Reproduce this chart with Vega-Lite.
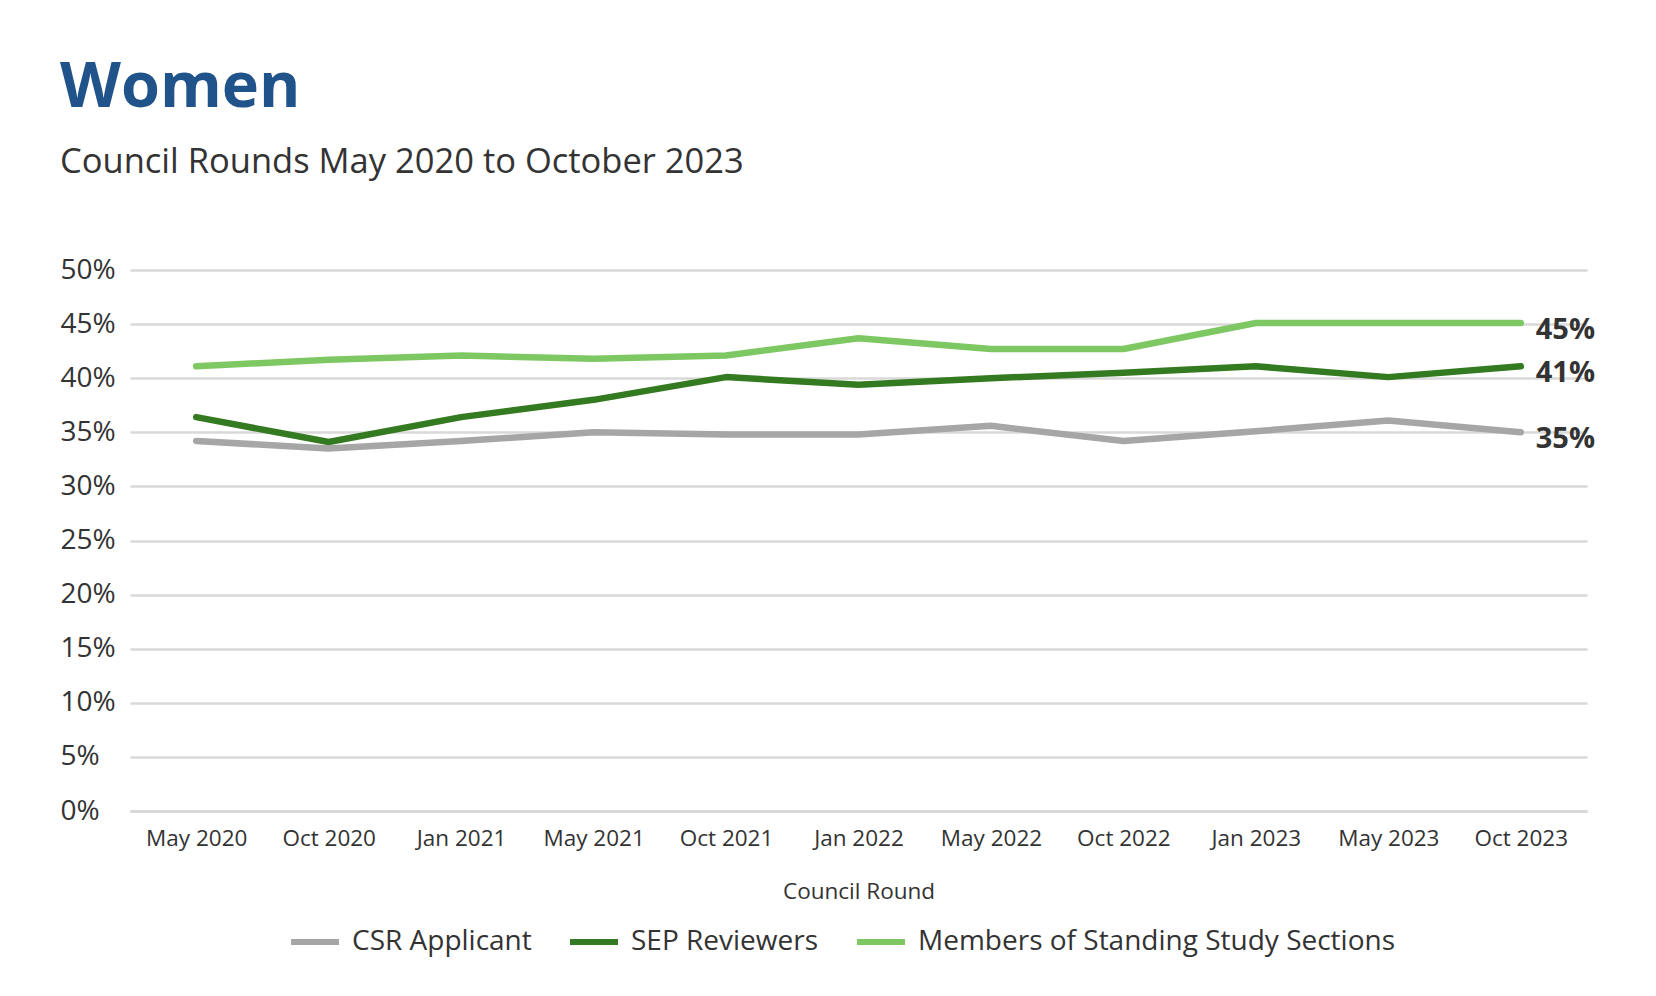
{
  "$schema": "https://vega.github.io/schema/vega-lite/v6.json",
  "autosize": {"type": "none"},
  "width": 1457,
  "height": 541,
  "padding": {"left": 130, "top": 270, "right": 69, "bottom": 185},
  "background": "white",
  "config": {"view": {"stroke": null}},
  "title": {
    "text": "Women",
    "subtitle": "Council Rounds May 2020 to October 2023",
    "anchor": "start",
    "frame": "group",
    "dx": -70,
    "offset": 77,
    "font": "Open Sans",
    "fontSize": 63,
    "fontWeight": "bold",
    "color": "#1f5389",
    "subtitleFont": "Open Sans",
    "subtitleFontSize": 34.5,
    "subtitleColor": "#333333",
    "subtitlePadding": 26
  },
  "data": {
    "values": [
      {"round": "May 2020", "series": "CSR Applicant", "value": 0.342},
      {"round": "Oct 2020", "series": "CSR Applicant", "value": 0.335},
      {"round": "Jan 2021", "series": "CSR Applicant", "value": 0.342},
      {"round": "May 2021", "series": "CSR Applicant", "value": 0.350},
      {"round": "Oct 2021", "series": "CSR Applicant", "value": 0.348},
      {"round": "Jan 2022", "series": "CSR Applicant", "value": 0.348},
      {"round": "May 2022", "series": "CSR Applicant", "value": 0.356},
      {"round": "Oct 2022", "series": "CSR Applicant", "value": 0.342},
      {"round": "Jan 2023", "series": "CSR Applicant", "value": 0.351},
      {"round": "May 2023", "series": "CSR Applicant", "value": 0.361},
      {"round": "Oct 2023", "series": "CSR Applicant", "value": 0.350},
      {"round": "May 2020", "series": "SEP Reviewers", "value": 0.364},
      {"round": "Oct 2020", "series": "SEP Reviewers", "value": 0.341},
      {"round": "Jan 2021", "series": "SEP Reviewers", "value": 0.364},
      {"round": "May 2021", "series": "SEP Reviewers", "value": 0.380},
      {"round": "Oct 2021", "series": "SEP Reviewers", "value": 0.401},
      {"round": "Jan 2022", "series": "SEP Reviewers", "value": 0.394},
      {"round": "May 2022", "series": "SEP Reviewers", "value": 0.400},
      {"round": "Oct 2022", "series": "SEP Reviewers", "value": 0.405},
      {"round": "Jan 2023", "series": "SEP Reviewers", "value": 0.411},
      {"round": "May 2023", "series": "SEP Reviewers", "value": 0.401},
      {"round": "Oct 2023", "series": "SEP Reviewers", "value": 0.411},
      {"round": "May 2020", "series": "Members of Standing Study Sections", "value": 0.411},
      {"round": "Oct 2020", "series": "Members of Standing Study Sections", "value": 0.417},
      {"round": "Jan 2021", "series": "Members of Standing Study Sections", "value": 0.421},
      {"round": "May 2021", "series": "Members of Standing Study Sections", "value": 0.418},
      {"round": "Oct 2021", "series": "Members of Standing Study Sections", "value": 0.421},
      {"round": "Jan 2022", "series": "Members of Standing Study Sections", "value": 0.437},
      {"round": "May 2022", "series": "Members of Standing Study Sections", "value": 0.427},
      {"round": "Oct 2022", "series": "Members of Standing Study Sections", "value": 0.427},
      {"round": "Jan 2023", "series": "Members of Standing Study Sections", "value": 0.451},
      {"round": "May 2023", "series": "Members of Standing Study Sections", "value": 0.451},
      {"round": "Oct 2023", "series": "Members of Standing Study Sections", "value": 0.451}
    ]
  },
  "encoding": {
    "x": {
      "field": "round",
      "type": "ordinal",
      "sort": null,
      "scale": {"type": "point", "padding": 0.5},
      "axis": {
        "title": "Council Round",
        "titleFont": "Open Sans",
        "titleFontSize": 22.5,
        "titleFontWeight": "normal",
        "titleColor": "#333333",
        "titlePadding": 31,
        "labelFont": "Open Sans",
        "labelFontSize": 22.5,
        "labelColor": "#333333",
        "labelAngle": 0,
        "labelPadding": 16,
        "ticks": false,
        "domain": true,
        "domainColor": "#d9d9d9",
        "domainWidth": 3,
        "grid": false
      }
    },
    "y": {
      "field": "value",
      "type": "quantitative",
      "scale": {"domain": [0, 0.5]},
      "axis": {
        "title": null,
        "format": ".0%",
        "values": [0, 0.05, 0.1, 0.15, 0.2, 0.25, 0.3, 0.35, 0.4, 0.45, 0.5],
        "labelFont": "Open Sans",
        "labelFontSize": 28,
        "labelColor": "#333333",
        "labelAlign": "left",
        "labelPadding": 70,
        "ticks": false,
        "tickSize": 0,
        "domain": false,
        "grid": true,
        "gridColor": "#d9d9d9",
        "gridWidth": 2.5
      }
    },
    "color": {
      "field": "series",
      "type": "nominal",
      "scale": {
        "domain": ["CSR Applicant", "SEP Reviewers", "Members of Standing Study Sections"],
        "range": ["#a6a6a6", "#347a21", "#7dc862"]
      },
      "legend": {
        "title": null,
        "orient": "none",
        "legendX": 158,
        "legendY": 645,
        "direction": "horizontal",
        "labelFont": "Open Sans",
        "labelFontSize": 28,
        "labelColor": "#333333",
        "symbolType": "stroke",
        "symbolStrokeWidth": 6,
        "symbolSize": 2300,
        "columnPadding": 26,
        "labelOffset": 10,
        "labelLimit": 700
      }
    }
  },
  "layer": [
    {
      "mark": {"type": "line", "strokeWidth": 6.5, "strokeCap": "round", "strokeJoin": "round"}
    },
    {
      "transform": [{"filter": "datum.round === 'Oct 2023'"}],
      "mark": {"type": "text", "align": "left", "baseline": "middle", "dx": 15, "dy": 7, "font": "Open Sans", "fontSize": 29, "fontWeight": "bold", "color": "#333333"},
      "encoding": {
        "text": {"field": "value", "type": "quantitative", "format": ".0%"},
        "color": {"value": "#333333"}
      }
    }
  ]
}
